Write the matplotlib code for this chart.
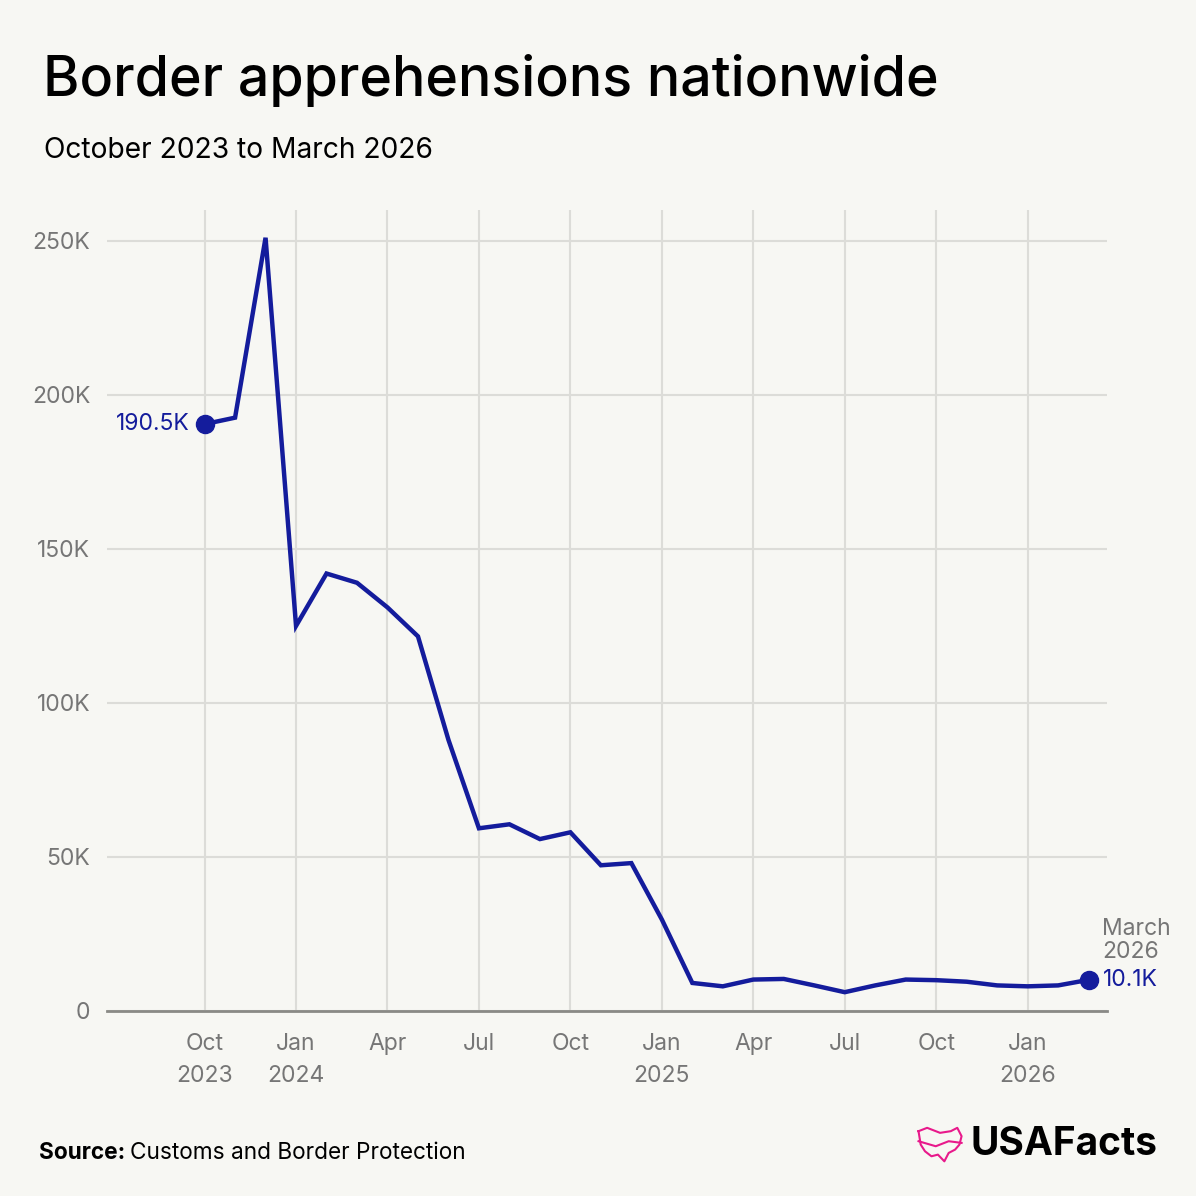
import matplotlib
matplotlib.use("Agg")
import matplotlib.pyplot as plt
import numpy as np

# monthly border apprehensions, Oct 2023 .. Mar 2026 (thousands)
months = np.arange(30)
values = [190.5, 192.6, 251.0, 125.0, 142.0, 139.0, 131.0, 121.6, 88.0, 59.3,
          60.6, 55.8, 58.0, 47.3, 48.0, 29.7, 9.1, 8.0, 10.2, 10.4,
          8.3, 6.1, 8.3, 10.2, 10.0, 9.5, 8.3, 8.0, 8.3, 10.1]
tick_pos = [0, 3, 6, 9, 12, 15, 18, 21, 24, 27]
tick_labels = ["Oct\n2023", "Jan\n2024", "Apr", "Jul", "Oct", "Jan\n2025",
               "Apr", "Jul", "Oct", "Jan\n2026"]
y_ticks = [0, 50, 100, 150, 200, 250]
y_labels = ["0", "50K", "100K", "150K", "200K", "250K"]

bg = "#f7f7f3"
blue = "#141c9c"
grey = "#767676"
plt.rcParams["font.family"] = ["Inter", "DejaVu Sans"]

fig = plt.figure(figsize=(11.96, 11.96), dpi=100, facecolor=bg)
ax = fig.add_axes([0.0895, 0.1547, 0.836, 0.6697], facecolor=bg)

ax.plot(months, values, color=blue, lw=3.2, solid_joinstyle="miter", zorder=3)
ax.plot([months[0], months[-1]], [values[0], values[-1]], "o", color=blue,
        ms=13, zorder=4)

ax.set_xlim(-3.2, 29.6)
ax.set_ylim(0, 260)
ax.set_yticks(y_ticks)
ax.set_yticklabels(y_labels)
ax.set_xticks(tick_pos)
ax.set_xticklabels(tick_labels, linespacing=1.6)
ax.tick_params(axis="both", length=0, labelsize=16.5, labelcolor=grey)
ax.tick_params(axis="x", pad=16)
ax.tick_params(axis="y", pad=12)
ax.grid(True, color="#dcdcd8", lw=1.5, zorder=0)
for s in ["top", "right", "left"]:
    ax.spines[s].set_visible(False)
ax.spines["bottom"].set_color("#8a8a86")
ax.spines["bottom"].set_linewidth(2)
ax.spines["bottom"].set_zorder(5)

ax.annotate("190.5K", (months[0], values[0]), xytext=(-11, 0),
            textcoords="offset points", ha="right", va="center",
            color=blue, fontsize=16.5, annotation_clip=False)
ax.annotate("10.1K", (months[-1], values[-1]), xytext=(10, 0),
            textcoords="offset points", ha="left", va="center",
            color=blue, fontsize=16.5, annotation_clip=False)
ax.annotate("March\n2026", (months[-1], values[-1]), xytext=(10, 12),
            textcoords="offset points", ha="left", va="bottom",
            color=grey, fontsize=16.5, linespacing=1.05, annotation_clip=False)

fig.text(0.036, 0.933, "Border apprehensions nationwide", fontsize=40,
         fontweight="medium", color="black", va="center")
fig.text(0.037, 0.874, "October 2023 to March 2026", fontsize=20.3,
         color="black", va="center")
fig.text(0.033, 0.036, "Source:", fontsize=16.3, fontweight="bold",
         color="black", va="center")
fig.text(0.109, 0.036, "Customs and Border Protection", fontsize=16.3,
         color="black", va="center")
fig.text(0.968, 0.043, "USAFacts", fontsize=28, fontweight="bold",
         color="black", va="center", ha="right")

# little pink map outline for the logo
lx = np.array([0, 0.2, 0.5, 0.75, 0.9, 1.0, 0.95, 0.85, 0.7, 0.6, 0.45, 0.3,
               0.15, 0.05, 0.0])
ly = np.array([0.9, 1.0, 0.85, 0.9, 1.0, 0.75, 0.5, 0.35, 0.25, 0.0, 0.2,
               0.15, 0.3, 0.5, 0.9])
fig.add_artist(plt.Line2D(0.768 + lx * 0.036, 0.029 + ly * 0.028,
                          color="#e8198b", lw=1.5))
fig.add_artist(plt.Line2D(0.768 + np.array([0, 0.4, 0.7, 1.0]) * 0.036,
                          0.029 + np.array([0.6, 0.45, 0.6, 0.55]) * 0.028,
                          color="#e8198b", lw=1.5))

fig.savefig("out.png", dpi=100, facecolor=bg)
